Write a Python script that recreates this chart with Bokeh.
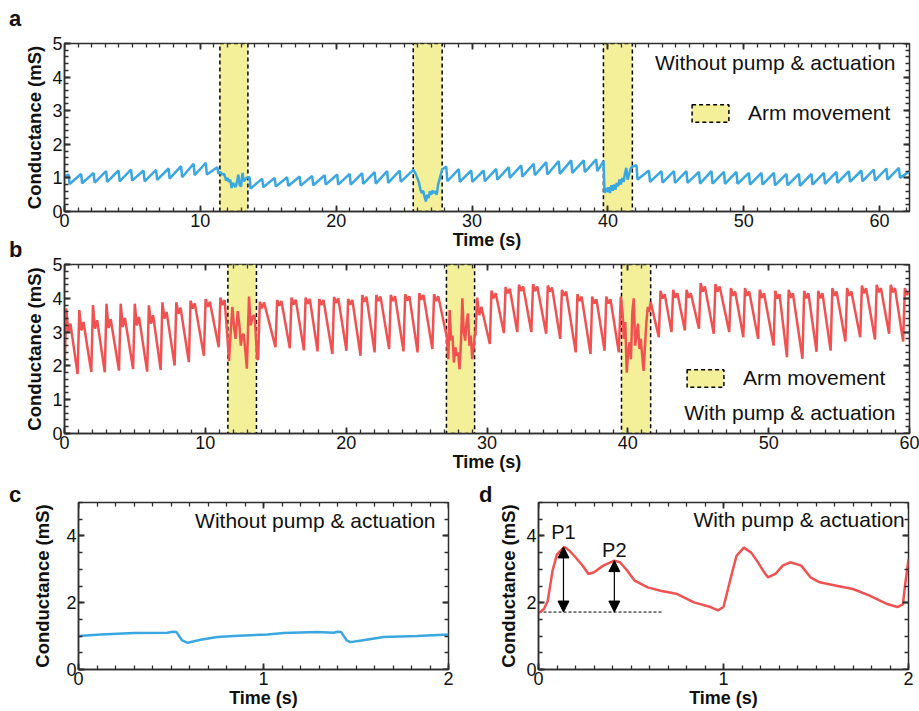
from bokeh.plotting import figure
from bokeh.models import (LinearAxis, SingleIntervalTicker, Range1d, Label, Div,
                          Legend, LegendItem, Arrow, NormalHead, CustomJSTickFormatter)
from bokeh.layouts import column, row
from bokeh.embed import file_html
from bokeh.resources import INLINE

# ---------------- data ----------------
# Panel a: sawtooth, per-cycle drop time, value before drop, value after drop
a_start = (0.0, 1.05)
a1_drop = [0.3, 1.22, 2.14, 3.06, 3.98, 4.9, 5.82, 6.74, 7.66, 8.58, 9.5, 10.4, 11.25]
a1_peak = [1.1, 1.12, 1.15, 1.2, 1.22, 1.25, 1.22, 1.24, 1.28, 1.35, 1.42, 1.45, 1.32]
a1_low = [0.82, 0.84, 0.86, 0.88, 0.9, 0.92, 0.9, 0.94, 0.98, 1.02, 1.08, 1.1, 1.12]
a_arm1_t = [11.45, 11.6, 11.75, 11.9, 12.0, 12.1, 12.2, 12.3, 12.4, 12.5, 12.6, 12.7,
            12.8, 12.9, 13.0, 13.1, 13.2, 13.3, 13.4, 13.5]
a_arm1_v = [1.18, 1.1, 1.12, 0.92, 1.0, 0.88, 0.95, 0.7, 0.85, 0.8, 0.72, 0.9,
            1.1, 0.78, 0.75, 1.15, 0.9, 0.95, 1.0, 1.02]
a2_drop = [13.62, 14.55, 15.47, 16.39, 17.31, 18.23, 19.15, 20.07, 20.99, 21.91, 22.83, 23.75, 24.67]
a2_peak = [1.02, 0.98, 1.0, 1.02, 1.04, 1.06, 1.08, 1.1, 1.12, 1.14, 1.17, 1.2, 1.22]
a2_low = [0.68, 0.72, 0.74, 0.76, 0.77, 0.78, 0.8, 0.8, 0.8, 0.82, 0.83, 0.85, 0.88]
a_arm2_t = [25.68, 25.85, 26.0, 26.1, 26.2, 26.3, 26.4, 26.5, 26.6, 26.7, 26.8, 26.9,
            27.0, 27.1, 27.2, 27.3, 27.4, 27.5, 27.6, 27.7, 27.8]
a_arm2_v = [1.24, 1.12, 0.97, 0.85, 0.65, 0.55, 0.62, 0.45, 0.3, 0.5, 0.4, 0.6,
            0.5, 0.62, 0.55, 0.6, 0.5, 0.8, 0.95, 1.1, 1.25]
a3_drop = [28.1, 29.02, 29.94, 30.86, 31.78, 32.7, 33.62, 34.54, 35.46, 36.38, 37.3, 38.22, 39.14]
a3_peak = [1.34, 1.26, 1.22, 1.22, 1.27, 1.32, 1.37, 1.42, 1.47, 1.5, 1.52, 1.52, 1.55]
a3_low = [0.9, 0.88, 0.88, 0.9, 0.95, 1.0, 1.04, 1.08, 1.1, 1.12, 1.15, 1.17, 1.2]
a_arm3_t = [39.68, 39.75, 39.85, 39.95, 40.05, 40.15, 40.25, 40.35, 40.45, 40.55, 40.65,
            40.75, 40.85, 40.95, 41.05, 41.15, 41.25, 41.35, 41.45, 41.55, 41.65, 41.75]
a_arm3_v = [1.5, 0.55, 0.7, 0.58, 0.72, 0.55, 0.78, 0.62, 0.8, 0.65, 0.85,
            0.75, 0.95, 0.8, 1.0, 0.88, 1.12, 1.3, 0.95, 1.1, 1.25, 1.32]
a4_drop = [42.1, 43.02, 43.94, 44.86, 45.78, 46.7, 47.62, 48.54, 49.46, 50.38, 51.3,
           52.22, 53.14, 54.06, 54.98, 55.9, 56.82, 57.74, 58.66, 59.58, 60.5, 61.42]
a4_peak = [1.38, 1.22, 1.2, 1.2, 1.2, 1.18, 1.2, 1.18, 1.18, 1.15, 1.15,
           1.15, 1.12, 1.12, 1.12, 1.15, 1.18, 1.2, 1.22, 1.25, 1.28, 1.3]
a4_low = [0.95, 0.88, 0.86, 0.85, 0.85, 0.83, 0.83, 0.82, 0.82, 0.8, 0.8,
          0.78, 0.78, 0.76, 0.8, 0.82, 0.85, 0.88, 0.9, 0.92, 0.95, 1.0]
a_end = (62.3, 1.22)
a_band_left = [11.44, 25.67, 39.67]
a_band_right = [13.5, 27.8, 41.8]

# Panel b: per-cycle trough time, trough, P1, dip, P2
b1_t = [0.0, 0.93, 1.9, 2.86, 3.87, 4.87, 5.87, 6.83, 7.82, 8.83, 9.9, 10.95]
b1_lo = [1.8, 1.76, 1.82, 1.81, 1.86, 1.91, 1.83, 1.88, 2.01, 2.11, 2.3, 2.55]
b1_p1 = [3.7, 3.65, 3.8, 3.84, 3.84, 3.84, 3.79, 3.88, 3.88, 3.93, 3.98, 4.02]
b1_dip = [3.0, 3.05, 3.1, 3.12, 3.15, 3.2, 3.25, 3.4, 3.55, 3.7, 3.75, 3.8]
b1_p2 = [3.25, 3.3, 3.35, 3.38, 3.42, 3.45, 3.5, 3.6, 3.72, 3.85, 3.9, 3.95]
b_arm1_t = [11.55, 11.68, 11.8, 11.92, 12.05, 12.15, 12.3, 12.42, 12.52, 12.62, 12.72,
            12.85, 12.95, 13.1, 13.22, 13.35, 13.5, 13.68]
b_arm1_v = [2.95, 2.15, 3.0, 3.75, 3.1, 2.8, 3.62, 3.2, 2.6, 2.9, 2.95,
            2.4, 1.92, 4.05, 3.2, 3.45, 3.5, 2.2]
b2_t = [13.75, 14.98, 16.0, 17.0, 17.97, 19.02, 20.02, 21.02, 22.02, 23.05, 24.07, 25.07, 26.12]
b2_lo = [2.2, 2.55, 2.52, 2.46, 2.43, 2.35, 2.45, 2.3, 2.4, 2.5, 2.43, 2.4, 2.5]
b2_p1 = [3.9, 3.95, 4.02, 4.02, 3.98, 4.04, 3.98, 4.1, 4.1, 4.1, 4.12, 4.15, 4.12]
b2_dip = [3.7, 3.78, 3.82, 3.84, 3.8, 3.86, 3.82, 3.9, 3.92, 3.92, 3.94, 3.96, 3.92]
b2_p2 = [3.88, 3.92, 3.96, 3.98, 3.95, 4.0, 3.95, 4.05, 4.05, 4.06, 4.06, 4.1, 4.06]
b_arm2_t = [27.15, 27.25, 27.35, 27.45, 27.55, 27.65, 27.75, 27.85, 27.95, 28.05, 28.15,
            28.25, 28.35, 28.45, 28.55, 28.65, 28.75, 28.85, 28.95, 29.05, 29.15]
b_arm2_v = [2.85, 2.2, 3.65, 2.75, 2.9, 2.1, 2.55, 2.3, 2.4, 1.9, 2.7,
            4.0, 3.0, 2.75, 3.3, 3.55, 2.6, 2.9, 2.2, 2.55, 3.0]
b3_t = [29.18, 30.2, 31.2, 32.15, 33.15, 34.2, 35.2, 36.3, 37.35, 38.35]
b3_lo = [2.9, 2.65, 2.97, 3.0, 3.0, 2.95, 2.8, 2.4, 2.35, 2.45]
b3_p1 = [4.02, 4.23, 4.33, 4.4, 4.42, 4.38, 4.25, 4.12, 4.05, 4.05]
b3_dip = [3.5, 4.0, 4.15, 4.22, 4.22, 4.2, 4.08, 3.92, 3.85, 3.85]
b3_p2 = [3.75, 4.15, 4.28, 4.35, 4.35, 4.32, 4.2, 4.05, 3.97, 3.97]
b_arm3_t = [39.36, 39.5, 39.62, 39.72, 39.82, 39.92, 40.02, 40.12, 40.22, 40.32, 40.42,
            40.52, 40.62, 40.72, 40.82, 40.92, 41.02, 41.12, 41.22, 41.32, 41.42, 41.52, 41.62]
b_arm3_v = [2.4, 4.05, 3.6, 2.8, 3.3, 1.8, 2.4, 2.7, 2.2, 3.6, 4.0,
            2.6, 2.9, 3.25, 2.5, 2.8, 2.3, 1.85, 2.6, 3.3, 3.75, 3.6, 3.9]
b4_t = [42.2, 43.1, 44.05, 45.05, 46.1, 47.2, 48.2, 49.25, 50.35, 51.3, 52.4, 53.4,
        54.4, 55.45, 56.5, 57.55, 58.55, 59.55]
b4_lo = [2.85, 3.0, 3.05, 3.1, 2.95, 3.0, 2.85, 2.8, 2.6, 2.26, 2.21, 2.42,
         2.45, 2.72, 2.85, 2.78, 2.95, 2.72]
b4_p1 = [4.22, 4.25, 4.25, 4.45, 4.42, 4.3, 4.3, 4.25, 4.22, 4.25, 4.22, 4.22,
         4.3, 4.3, 4.38, 4.4, 4.4, 4.3]
b4_dip = [4.0, 4.02, 4.02, 4.2, 4.2, 4.08, 4.08, 4.02, 4.0, 4.02, 4.0, 4.0,
          4.08, 4.08, 4.15, 4.18, 4.18, 4.1]
b4_p2 = [4.12, 4.15, 4.15, 4.35, 4.35, 4.2, 4.2, 4.15, 4.12, 4.15, 4.15, 4.15,
         4.2, 4.2, 4.3, 4.3, 4.3, 4.2]
b_band_left = [11.6, 27.12, 39.55]
b_band_right = [13.63, 29.12, 41.62]
# within-cycle timing of P1, dip and P2 after the trough (from panel d)
b_shape_dt = [0.12, 0.27, 0.42]

# Panel c
c_t = [0.0, 0.12, 0.3, 0.48, 0.51, 0.53, 0.56, 0.59, 0.66, 0.75, 0.84, 1.02, 1.11,
       1.29, 1.38, 1.4, 1.42, 1.45, 1.47, 1.53, 1.65, 1.83, 2.0]
c_v = [1.0, 1.05, 1.09, 1.1, 1.13, 1.12, 0.87, 0.8, 0.89, 0.97, 1.0, 1.05, 1.09,
       1.12, 1.1, 1.13, 1.12, 0.87, 0.82, 0.87, 0.97, 1.0, 1.05]

# Panel d
d_t = [0.0, 0.01, 0.03, 0.05, 0.076, 0.1, 0.14, 0.165, 0.2, 0.24, 0.27, 0.3, 0.35, 0.41,
       0.44, 0.48, 0.52, 0.59, 0.66, 0.75, 0.84, 0.93, 0.97, 1.0, 1.04, 1.07, 1.11,
       1.15, 1.18, 1.22, 1.24, 1.28, 1.32, 1.36, 1.42, 1.47, 1.52, 1.61, 1.7, 1.79,
       1.88, 1.94, 1.97, 1.98, 2.0]
d_v = [1.7, 1.72, 1.82, 2.05, 2.96, 3.45, 3.67, 3.57, 3.36, 3.1, 2.86, 2.91, 3.11, 3.26,
       3.21, 2.96, 2.66, 2.46, 2.36, 2.26, 2.01, 1.87, 1.77, 1.87, 2.76, 3.4, 3.65,
       3.5, 3.26, 2.91, 2.76, 2.86, 3.11, 3.21, 3.11, 2.76, 2.61, 2.51, 2.41, 2.21,
       1.97, 1.87, 1.95, 2.46, 3.3]
d_base = 1.72
d_base_end = 0.67
d_arrow_x = [0.135, 0.41]
d_arrow_top = [3.67, 3.26]
d_peak_names = ["P1", "P2"]
d_name_y = [4.12, 3.59]

# ---------------- build polylines from read key points ----------------
def saw(drop, peak, low, dt=0.08):
    xs, ys = [], []
    for t, p, q in zip(drop, peak, low):
        xs += [t, t + dt]
        ys += [p, q]
    return xs, ys

def cycles(t0, lo, p1, dp, p2):
    xs, ys = [], []
    for t, a, b, c, d in zip(t0, lo, p1, dp, p2):
        xs += [t, t + b_shape_dt[0], t + b_shape_dt[1], t + b_shape_dt[2]]
        ys += [a, b, c, d]
    return xs, ys

ax_x, ax_y = [a_start[0]], [a_start[1]]
for part in [saw(a1_drop, a1_peak, a1_low), (a_arm1_t, a_arm1_v),
             saw(a2_drop, a2_peak, a2_low), (a_arm2_t, a_arm2_v),
             saw(a3_drop, a3_peak, a3_low), (a_arm3_t, a_arm3_v),
             saw(a4_drop, a4_peak, a4_low)]:
    ax_x += list(part[0]); ax_y += list(part[1])
ax_x.append(a_end[0]); ax_y.append(a_end[1])

bx_x, bx_y = [], []
for part in [cycles(b1_t, b1_lo, b1_p1, b1_dip, b1_p2), (b_arm1_t, b_arm1_v),
             cycles(b2_t, b2_lo, b2_p1, b2_dip, b2_p2), (b_arm2_t, b_arm2_v),
             cycles(b3_t, b3_lo, b3_p1, b3_dip, b3_p2), (b_arm3_t, b_arm3_v),
             cycles(b4_t, b4_lo, b4_p1, b4_dip, b4_p2)]:
    bx_x += list(part[0]); bx_y += list(part[1])

# ---------------- styling ----------------
FONT = "Liberation Sans"
AXC = "#2e2e2e"
TXT = "#111111"
BLUE = "#3aa7e0"
RED = "#f05252"
YEL = "#f4f09a"
EMPTY = CustomJSTickFormatter(code="return ''")


def make_fig(w, h, xr, yr, bl, br, bt, bb):
    p = figure(width=w, height=h, x_range=Range1d(*xr), y_range=Range1d(*yr),
               output_backend="svg", toolbar_location=None,
               min_border_left=bl, min_border_right=br,
               min_border_top=bt, min_border_bottom=bb)
    p.grid.visible = False
    p.outline_line_color = AXC
    p.outline_line_width = 1.5
    return p


def style_axes(p, xint, xminor, yint, yminor, ylab_standoff):
    xt = SingleIntervalTicker(interval=xint, num_minor_ticks=xminor)
    yt = SingleIntervalTicker(interval=yint, num_minor_ticks=yminor)
    xb = p.xaxis[0]
    yl = p.yaxis[0]
    xb.ticker = xt
    yl.ticker = yt
    xb.axis_label = "Time (s)"
    yl.axis_label = "Conductance (mS)"
    # mirror ticks on the top and right edges (axes pinned at the far edge)
    xm = LinearAxis(ticker=xt, formatter=EMPTY, fixed_location=p.y_range.end,
                    major_tick_in=0, major_tick_out=6, minor_tick_in=0, minor_tick_out=4,
                    axis_line_color=None, major_label_standoff=0)
    ym = LinearAxis(ticker=yt, formatter=EMPTY, fixed_location=p.x_range.end,
                    major_tick_in=0, major_tick_out=6, minor_tick_in=0, minor_tick_out=4,
                    axis_line_color=None, major_label_standoff=0)
    p.add_layout(xm, "below")
    p.add_layout(ym, "left")
    for ax in (xb, yl, xm, ym):
        ax.major_tick_line_color = AXC
        ax.minor_tick_line_color = AXC
        ax.major_tick_line_width = 1.8
        ax.minor_tick_line_width = 1.3
    for ax in (xb, yl):
        ax.axis_line_color = AXC
        ax.axis_line_width = 1.5
        ax.major_tick_in = 6
        ax.major_tick_out = 0
        ax.minor_tick_in = 4
        ax.minor_tick_out = 0
        ax.major_label_text_font = FONT
        ax.major_label_text_color = TXT
        ax.major_label_text_font_size = "18px"
        ax.axis_label_text_font = FONT
        ax.axis_label_text_font_style = "bold"
        ax.axis_label_text_color = TXT
    xb.axis_label_text_font_size = "18px"
    yl.axis_label_text_font_size = "18.5px"
    xb.major_label_standoff = 2
    yl.major_label_standoff = 2
    xb.axis_label_standoff = 0
    yl.axis_label_standoff = ylab_standoff


def note(p, txt, x, y, align="right"):
    p.add_layout(Label(x=x, y=y, text=txt, text_font=FONT, text_font_size="21px",
                       text_color=TXT, text_align=align, text_baseline="alphabetic"))


def bands_and_legend(p, left, right, loc):
    r = p.quad(left=left, right=right, bottom=0, top=5, fill_color=YEL,
               line_color="black", line_dash="4 3", line_width=1.5)
    lg = Legend(items=[LegendItem(label="Arm movement", renderers=[r])],
                location=loc, glyph_width=46, glyph_height=22, label_standoff=15,
                label_text_font=FONT, label_text_font_size="21px", label_text_color=TXT,
                padding=0, margin=0, border_line_color=None, background_fill_alpha=0,
                label_height=22)
    p.add_layout(lg)


LETTER_CSS = ("position:absolute;font-family:'Liberation Sans',Arial,sans-serif;"
              "font-weight:bold;font-size:22px;line-height:22px;color:#111111;")


def letters_div(items, w, h):
    spans = "".join(
        f'<span style="{LETTER_CSS}left:{lx}px;top:{ty}px">{t}</span>' for t, lx, ty in items)
    html = f'<div style="position:relative;width:{w}px;height:{h}px;">{spans}</div>'
    return Div(text=html, width=w, height=h, margin=0)


# ---------------- panel a ----------------
pa = make_fig(898, 252, (0, 62.2), (0, 5), 43, 10, 43, 41)
bands_and_legend(pa, a_band_left, a_band_right, (623, 86))
pa.line(ax_x, ax_y, line_color=BLUE, line_width=2.5)
style_axes(pa, 10, 10, 1, 5, 4)
note(pa, "Without pump & actuation", 61.17, 4.42)

# ---------------- panel b ----------------
pb = make_fig(898, 222, (0, 60), (0, 5), 43, 10, 12, 41)
bands_and_legend(pb, b_band_left, b_band_right, (618, 43))
pb.line(bx_x, bx_y, line_color=RED, line_width=2.5)
style_axes(pb, 10, 10, 1, 5, 4)
note(pb, "With pump & actuation", 59.0, 0.62)

# ---------------- panel c ----------------
pc = make_fig(457, 237, (0, 2), (0, 5), 57, 30, 28, 42)
pc.line(c_t, c_v, line_color=BLUE, line_width=2.5)
style_axes(pc, 1, 10, 2, 4, 10)
note(pc, "Without pump & actuation", 1.93, 4.47)

# ---------------- panel d ----------------
pd_ = make_fig(425, 237, (0, 2), (0, 5), 44, 11, 28, 42)
pd_.line([0, d_base_end], [d_base, d_base], line_color="black", line_width=1,
         line_dash="3 2")
pd_.line(d_t, d_v, line_color=RED, line_width=2.5)
for xa_, ya_, nm, ny in zip(d_arrow_x, d_arrow_top, d_peak_names, d_name_y):
    pd_.add_layout(Arrow(x_start=xa_, y_start=d_base, x_end=xa_, y_end=ya_,
                         line_color="black", line_width=1.2,
                         start=NormalHead(size=11, fill_color="black", line_color="black"),
                         end=NormalHead(size=11, fill_color="black", line_color="black")))
    pd_.add_layout(Label(x=xa_, y=ny, text=nm, text_font=FONT,
                         text_font_size="20px", text_color=TXT, text_align="center",
                         text_baseline="alphabetic"))
style_axes(pd_, 1, 10, 2, 4, 4)
note(pd_, "With pump & actuation", 1.98, 4.5)

# ---------------- panel letters and layout ----------------
left_letters = letters_div([("a", 9, 8), ("b", 9, 239), ("c", 9, 484)], 21, 711)
d_letter = letters_div([("d", 1, 10)], 16, 237)

layout = row(left_letters,
             column(pa, pb, row(pc, d_letter, pd_, spacing=0), spacing=0),
             spacing=0)
open("out.html", "w").write(file_html(layout, INLINE))
